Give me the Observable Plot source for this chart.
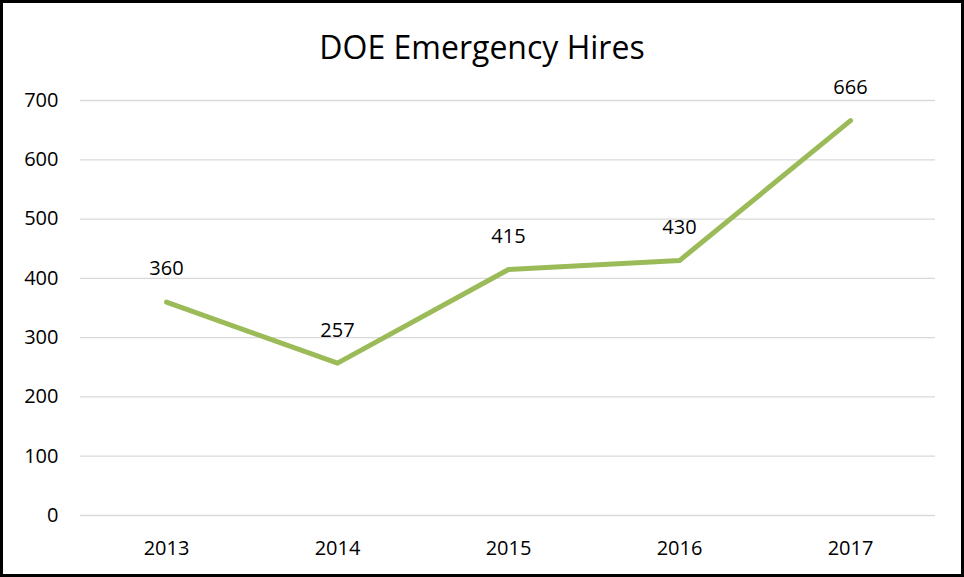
<!DOCTYPE html>
<html>
<head>
<meta charset="utf-8">
<script src="https://cdn.jsdelivr.net/npm/d3@7"></script>
<script src="https://cdn.jsdelivr.net/npm/@observablehq/plot@0.6"></script>
<style>
  html, body { margin: 0; padding: 0; background: #fff; }
  #frame { box-sizing: border-box; width: 964px; height: 577px; border: 3px solid #000; background: #fff; overflow: hidden; }
  #title { height: 70px; line-height: 88px; text-align: center; font-family: "Open Sans", sans-serif; font-size: 32px; color: #000; }
  svg { display: block; }
</style>
</head>
<body>
<div id="frame">
  <div id="title">DOE Emergency Hires</div>
  <div id="chart"></div>
</div>
<script>
const years = ["2013", "2014", "2015", "2016", "2017"];
const hires = [360, 257, 415, 430, 666];
const yTicks = [0, 100, 200, 300, 400, 500, 600, 700];

const data = years.map((y, i) => ({year: y, value: hires[i]}));

const plot = Plot.plot({
  width: 958,
  height: 501,
  marginTop: 27,
  marginBottom: 59,
  marginLeft: 77,
  marginRight: 26,
  style: {fontFamily: "Open Sans, sans-serif", fontSize: "20px", color: "#000", background: "#fff"},
  x: {type: "point", domain: years, padding: 0.5},
  y: {domain: [0, 700]},
  marks: [
    Plot.gridY(yTicks, {stroke: "#d9d9d9", strokeOpacity: 1, strokeWidth: 1.3}),
    Plot.axisY(yTicks, {tickSize: 0, tickPadding: 22, label: null, fontSize: 20}),
    Plot.axisX({tickSize: 0, tickPadding: 25, label: null, fontSize: 20}),
    Plot.line(data, {x: "year", y: "value", stroke: "#9bbb59", strokeWidth: 5, strokeLinecap: "round", strokeLinejoin: "round"}),
    Plot.text(data, {x: "year", y: "value", text: d => String(d.value), dy: -33, fontSize: 20, fill: "#000"})
  ]
});
document.getElementById("chart").appendChild(plot);
</script>
</body>
</html>
